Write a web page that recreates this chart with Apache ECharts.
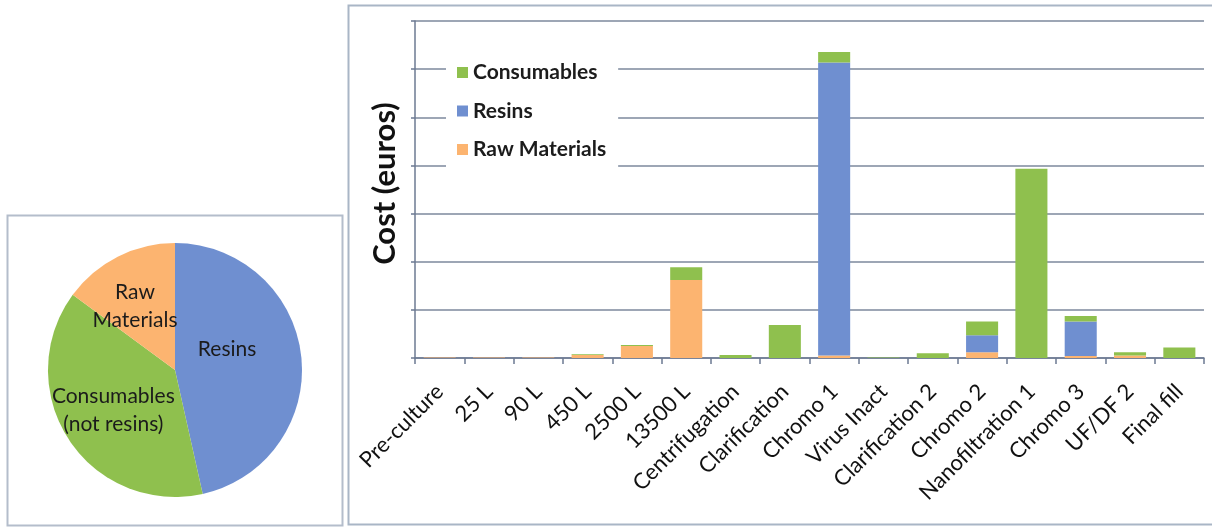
<!DOCTYPE html>
<html>
<head>
<meta charset="utf-8">
<script src="https://cdn.jsdelivr.net/npm/echarts@6/dist/echarts.min.js"></script>
<style>
  html, body { margin: 0; padding: 0; background: #ffffff; }
  #chart { width: 1212px; height: 527px; }
</style>
</head>
<body>
<div id="chart"></div>
<script>
// Process steps along the bar chart's category axis
const categories = [
  'Pre-culture', '25 L', '90 L', '450 L', '2500 L', '13500 L',
  'Centrifugation', 'Clarification', 'Chromo 1', 'Virus Inact',
  'Clarification 2', 'Chromo 2', 'Nanofiltration 1', 'Chromo 3',
  'UF/DF 2', 'Final fill'
];

// Cost per step, stacked from the bottom up
const rawMaterials = [0.01, 0.01, 0.01, 0.06, 0.25, 1.62, 0, 0, 0.05, 0, 0, 0.12, 0, 0.04, 0.05, 0];
const resins       = [0, 0, 0, 0, 0, 0, 0, 0, 6.09, 0, 0, 0.35, 0, 0.72, 0, 0];
const consumables  = [0, 0, 0, 0.02, 0.02, 0.265, 0.06, 0.686, 0.215, 0.01, 0.1, 0.29, 3.93, 0.11, 0.07, 0.22];

// Overall cost shares for the pie
const pieNames  = ['Resins', 'Consumables\n(not resins)', 'Raw\nMaterials'];
const pieShares = [46.5, 38.6, 14.9];

const BLUE = '#6f8fd0';
const GREEN = '#8fc04e';
const ORANGE = '#fcb470';
const FONT = 'Lato, "Open Sans", sans-serif';
const AXIS_COLOR = '#6c7a92';

// nudges for the pie's slice labels, so each sits nearer the slice's centre of mass
const pieLabelOffsets = [[-14, -13], [-6, 4], [-10, -4]];

const chart = echarts.init(document.getElementById('chart'), null, { renderer: 'canvas' });

const option = {
  backgroundColor: '#ffffff',
  animation: false,
  graphic: [
    {
      type: 'rect', z: -1,
      shape: { x: 7.5, y: 215.5, width: 335, height: 310 },
      style: { fill: 'none', stroke: '#b4bdcb', lineWidth: 2 }
    },
    {
      type: 'rect', z: -1,
      shape: { x: 348.5, y: 5.5, width: 880, height: 519 },
      style: { fill: 'none', stroke: '#a9b6c6', lineWidth: 2 }
    }
  ],
  legend: {
    data: ['Consumables', 'Resins', 'Raw Materials'],
    orient: 'vertical',
    left: 446,
    top: 52,
    padding: [10, 12, 10, 11],
    backgroundColor: '#ffffff',
    itemWidth: 11,
    itemHeight: 11,
    itemGap: 17.5,
    icon: 'rect',
    textStyle: { fontFamily: FONT, fontSize: 21, fontWeight: 'bold', color: '#1c1c1c', lineHeight: 20 }
  },
  grid: { left: 415, right: 8, top: 21, bottom: 169, containLabel: false },
  xAxis: {
    type: 'category',
    data: categories,
    boundaryGap: true,
    axisLine: { show: true, lineStyle: { color: AXIS_COLOR, width: 1.5 } },
    axisTick: { show: true, interval: 0, length: 6, lineStyle: { color: AXIS_COLOR, width: 1.5 } },
    axisLabel: {
      interval: 0,
      rotate: 45,
      margin: 30,
      fontFamily: FONT,
      fontSize: 22,
      color: '#111111'
    }
  },
  yAxis: {
    type: 'value',
    min: 0,
    max: 7,
    interval: 1,
    name: 'Cost (euros)',
    nameLocation: 'middle',
    nameRotate: 90,
    nameGap: 15,
    nameTextStyle: { fontFamily: FONT, fontSize: 31, fontWeight: 'bold', color: '#111111', padding: [0, 0, 0, 12] },
    axisLine: { show: true, lineStyle: { color: AXIS_COLOR, width: 1.5 } },
    axisTick: { show: true, length: 4, lineStyle: { color: AXIS_COLOR, width: 1.5 } },
    axisLabel: { show: false },
    splitLine: { show: true, lineStyle: { color: '#7d889c', width: 1.5 } }
  },
  series: [
    {
      name: 'Raw Materials', type: 'bar', stack: 'cost', data: rawMaterials,
      barWidth: '65%', itemStyle: { color: ORANGE }
    },
    {
      name: 'Resins', type: 'bar', stack: 'cost', data: resins,
      barWidth: '65%', itemStyle: { color: BLUE }
    },
    {
      name: 'Consumables', type: 'bar', stack: 'cost', data: consumables,
      barWidth: '65%', itemStyle: { color: GREEN }
    },
    {
      name: 'Share', type: 'pie',
      center: [175, 370],
      radius: 127,
      startAngle: 90,
      clockwise: true,
      silent: true,
      data: pieNames.map((n, i) => ({
        name: n,
        value: pieShares[i],
        itemStyle: { color: [BLUE, GREEN, ORANGE][i] },
        label: { offset: pieLabelOffsets[i] }
      })),
      itemStyle: { borderWidth: 0 },
      label: {
        show: true,
        position: 'inside',
        fontFamily: FONT,
        fontSize: 21,
        lineHeight: 28,
        color: '#1b1b1b',
        formatter: '{b}'
      },
      labelLine: { show: false }
    }
  ]
};

chart.setOption(option);
</script>
</body>
</html>
